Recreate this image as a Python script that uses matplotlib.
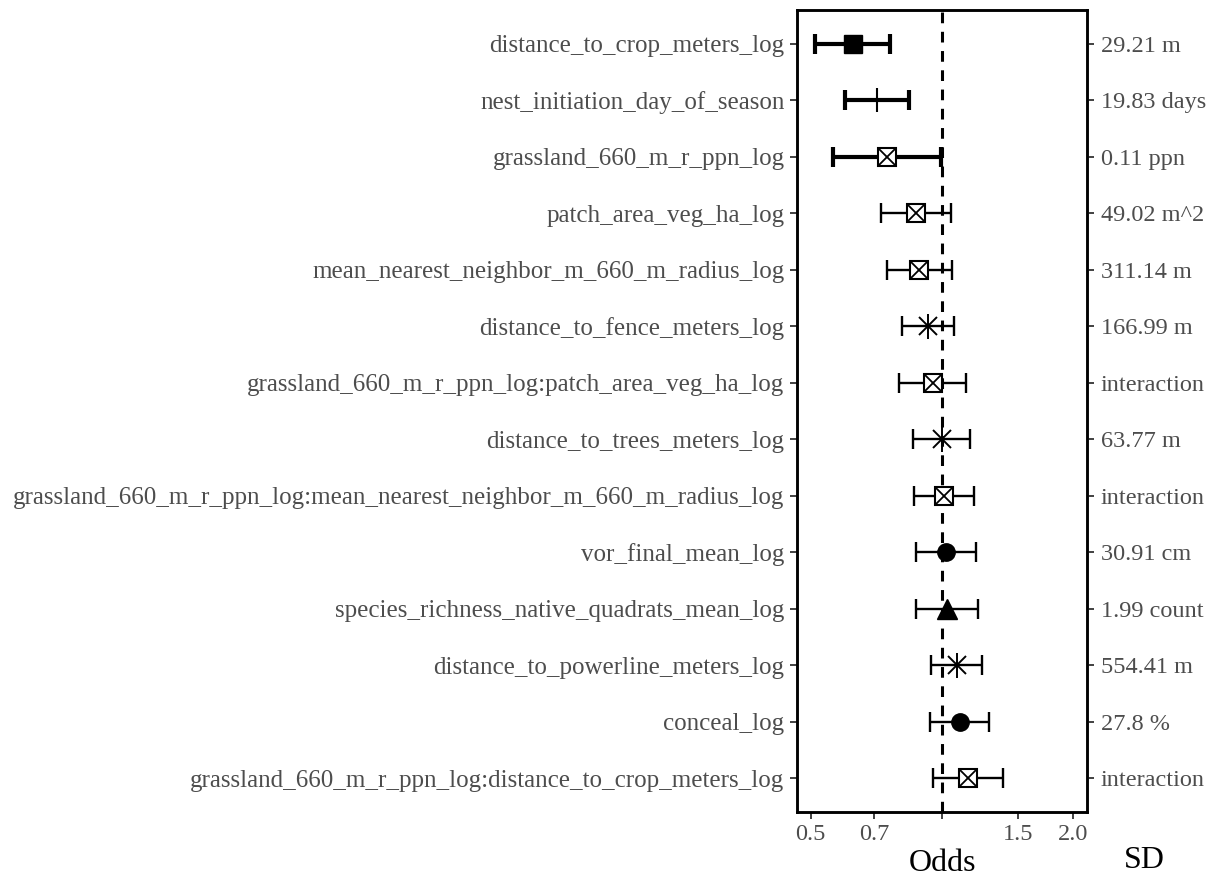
import matplotlib
matplotlib.use("Agg")
import matplotlib.pyplot as plt
import numpy as np

terms = [
    "distance_to_crop_meters_log",
    "nest_initiation_day_of_season",
    "grassland_660_m_r_ppn_log",
    "patch_area_veg_ha_log",
    "mean_nearest_neighbor_m_660_m_radius_log",
    "distance_to_fence_meters_log",
    "grassland_660_m_r_ppn_log:patch_area_veg_ha_log",
    "distance_to_trees_meters_log",
    "grassland_660_m_r_ppn_log:mean_nearest_neighbor_m_660_m_radius_log",
    "vor_final_mean_log",
    "species_richness_native_quadrats_mean_log",
    "distance_to_powerline_meters_log",
    "conceal_log",
    "grassland_660_m_r_ppn_log:distance_to_crop_meters_log",
]
sd_labels = ["29.21 m", "19.83 days", "0.11 ppn", "49.02 m^2", "311.14 m", "166.99 m",
             "interaction", "63.77 m", "interaction", "30.91 cm", "1.99 count",
             "554.41 m", "27.8 %", "interaction"]
odds = [0.624, 0.709, 0.750, 0.871, 0.888, 0.929, 0.954, 1.000, 1.014, 1.023, 1.027, 1.083, 1.102, 1.151]
lower = [0.512, 0.599, 0.564, 0.724, 0.750, 0.812, 0.799, 0.861, 0.865, 0.873, 0.873, 0.944, 0.940, 0.954]
upper = [0.760, 0.841, 0.996, 1.052, 1.056, 1.066, 1.135, 1.162, 1.185, 1.197, 1.210, 1.240, 1.286, 1.385]
significant = [True, True, True, False, False, False, False, False, False, False, False, False, False, False]
shapes = ["square", "vline", "boxx", "boxx", "boxx", "star", "boxx", "star", "boxx",
          "circle", "triangle", "star", "circle", "boxx"]
xticks = [0.5, 0.7, 1.0, 1.5, 2.0]
xticklabels = ["0.5", "0.7", "", "1.5", "2.0"]

plt.rcParams['font.family'] = ['Liberation Serif', 'DejaVu Serif']

W, H = 1219, 877
fig = plt.figure(figsize=(W / 100, H / 100), dpi=100)
ax = fig.add_axes([797 / W, 1 - 812 / H, (1087 - 797) / W, (812 - 10) / H])

n = len(terms)
ypos = np.arange(n)[::-1] + 1  # first term at top

ax.axvline(1.0, color='black', lw=2.2, ls=(0, (3.5, 2.8)), zorder=1)

for i in range(n):
    y = ypos[i]
    lw = 3.0 if significant[i] else 1.7
    ax.errorbar(odds[i], y, xerr=[[odds[i] - lower[i]], [upper[i] - odds[i]]],
                fmt='none', ecolor='black', elinewidth=lw, capsize=7.5, capthick=lw, zorder=2)
    s = shapes[i]
    if s == "square":
        ax.plot(odds[i], y, marker='s', ms=12.5, color='black', zorder=3)
    elif s == "vline":
        ax.plot(odds[i], y, marker='|', ms=17, mew=1.5, color='black', zorder=3)
    elif s == "boxx":
        ax.plot(odds[i], y, marker='s', ms=12.5, mfc='white', mec='black', mew=1.5, zorder=3)
        ax.plot(odds[i], y, marker='x', ms=11, mec='black', mew=1.3, zorder=4)
    elif s == "star":
        ax.plot(odds[i], y, marker='x', ms=13, mec='black', mew=1.4, zorder=3)
        ax.plot(odds[i], y, marker='|', ms=18, mec='black', mew=1.4, zorder=3)
    elif s == "circle":
        ax.plot(odds[i], y, marker='o', ms=12.5, color='black', zorder=3)
    elif s == "triangle":
        ax.plot(odds[i], y, marker='^', ms=14.5, color='black', zorder=3)

ax.set_xscale('log')
ax.set_xlim(0.465, 2.157)
ax.set_ylim(0.4, n + 0.6)
ax.set_xticks(xticks)
ax.set_xticklabels(xticklabels)
ax.xaxis.set_minor_locator(matplotlib.ticker.NullLocator())

ax.set_yticks(ypos)
ax.set_yticklabels(terms)
ax.tick_params(axis='both', colors='#333333', labelcolor='#4D4D4D', labelsize=18,
               width=1.3, length=5)
ax.tick_params(axis='x', labelsize=17.5)
ax.tick_params(axis='y', pad=4)

ax2 = ax.twinx()
ax2.set_ylim(ax.get_ylim())
ax2.set_yticks(ypos)
ax2.set_yticklabels(sd_labels)
ax2.tick_params(axis='y', colors='#333333', labelcolor='#4D4D4D', labelsize=17.5,
                width=1.3, length=5, pad=5)

for a in (ax, ax2):
    for sp in a.spines.values():
        sp.set_linewidth(1.8)
        sp.set_color('black')

ax.set_xlabel("Odds", fontsize=23, color='black', labelpad=3)
fig.text(1144 / W, 1 - 860 / H, "SD", fontsize=23, color='black', ha='center', va='center')

fig.savefig("out.png", dpi=100)
